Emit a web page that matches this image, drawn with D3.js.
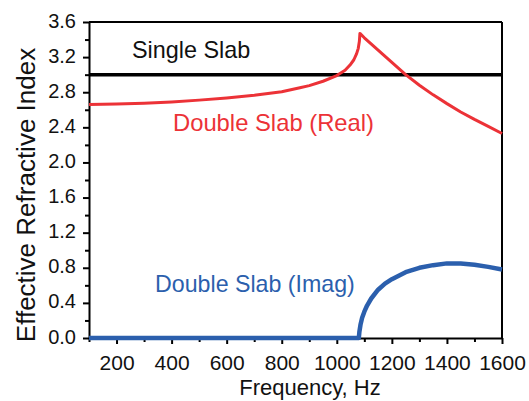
<!DOCTYPE html>
<html>
<head>
<meta charset="utf-8">
<script src="https://cdn.jsdelivr.net/npm/d3@7"></script>
<style>
  body { margin: 0; background: #fff; }
  svg { display: block; font-family: Arial, "Liberation Sans", sans-serif; }
</style>
</head>
<body>
<div id="chart"></div>
<script>
// single slab (constant)
var singleFreq = [100, 1600];
var singleVal = [3.0, 3.0];

// double slab, real part
var realFreq = [100, 200, 300, 400, 500, 600, 700, 800, 866, 900, 950, 1000, 1030, 1048, 1062, 1072, 1078, 1082, 1084,
  1100, 1150, 1200, 1250, 1300, 1350, 1400, 1450, 1500, 1550, 1600];
var realVal = [2.66, 2.665, 2.675, 2.69, 2.71, 2.735, 2.765, 2.805, 2.85, 2.875, 2.925, 2.99, 3.05, 3.11, 3.17, 3.24, 3.3, 3.38, 3.47,
  3.42, 3.28, 3.14, 3.00, 2.88, 2.77, 2.67, 2.575, 2.49, 2.41, 2.33];

// double slab, imaginary part
var imagFreq = [100, 1080, 1082, 1086, 1092, 1100, 1110, 1125, 1150, 1175, 1200, 1250, 1300, 1350, 1400, 1450, 1500, 1550, 1600];
var imagVal = [0, 0, 0.07, 0.15, 0.23, 0.3, 0.37, 0.45, 0.55, 0.62, 0.67, 0.75, 0.8, 0.83, 0.85, 0.85, 0.835, 0.81, 0.78];

var xTicks = [200, 400, 600, 800, 1000, 1200, 1400, 1600];
var yTicks = [0.0, 0.4, 0.8, 1.2, 1.6, 2.0, 2.4, 2.8, 3.2, 3.6];

var labels = [
  { text: 'Single Slab', f: 256, v: 3.19, color: '#111', size: 23.4 },
  { text: 'Double Slab (Real)', f: 405, v: 2.36, color: '#ec3237', size: 23.8 },
  { text: 'Double Slab (Imag)', f: 340, v: 0.52, color: '#2b5fad', size: 23.2 }
];

var width = 529, height = 401;
var margin = { top: 22, right: 27, bottom: 63, left: 89 };
var w = width - margin.left - margin.right,
  h = height - margin.top - margin.bottom;

var svg = d3.select('#chart').append('svg')
  .attr('width', width)
  .attr('height', height);

var g = svg.append('g')
  .attr('transform', 'translate(' + margin.left + ',' + margin.top + ')');

var x = d3.scaleLinear().domain([100, 1600]).range([0, w]);
var y = d3.scaleLinear().domain([0, 3.6]).range([h, 0]);

// minor ticks first
var xMinor = d3.range(100, 1601, 100).filter(function(d) { return xTicks.indexOf(d) < 0; });
var yMinor = d3.range(1, 18, 2).map(function(d) { return d * 0.2; });

g.append('g')
  .attr('transform', 'translate(0,' + h + ')')
  .call(d3.axisBottom(x).tickValues(xMinor).tickSize(4).tickSizeOuter(0).tickFormat(''))
  .call(function(a) { a.select('.domain').remove(); a.selectAll('line').attr('stroke-width', 2); });

g.append('g')
  .call(d3.axisLeft(y).tickValues(yMinor).tickSize(4).tickSizeOuter(0).tickFormat(''))
  .call(function(a) { a.select('.domain').remove(); a.selectAll('line').attr('stroke-width', 2); });

var xAxis = g.append('g')
  .attr('transform', 'translate(0,' + h + ')')
  .call(d3.axisBottom(x).tickValues(xTicks).tickSize(6).tickSizeOuter(0).tickPadding(11).tickFormat(d3.format('d')));
xAxis.selectAll('text').attr('font-size', 21).attr('fill', '#111').attr('font-family', 'Arial, "Liberation Sans", sans-serif');

var yAxis = g.append('g')
  .call(d3.axisLeft(y).tickValues(yTicks).tickSize(6).tickSizeOuter(0).tickPadding(7).tickFormat(d3.format('.1f')));
yAxis.selectAll('text').attr('font-size', 20).attr('fill', '#111').attr('dy', '0.25em')
  .attr('font-family', 'Arial, "Liberation Sans", sans-serif');

[xAxis, yAxis].forEach(function(a) {
  a.select('.domain').attr('stroke-width', 2);
  a.selectAll('line').attr('stroke-width', 2);
});

// box: top and right
g.append('line').attr('x1', 0).attr('x2', w).attr('y1', 0).attr('y2', 0)
  .attr('stroke', '#000').attr('stroke-width', 2);
g.append('line').attr('x1', w).attr('x2', w).attr('y1', 0).attr('y2', h)
  .attr('stroke', '#000').attr('stroke-width', 2);

function series(fs, vs) {
  return fs.map(function(f, i) { return { f: f, v: vs[i] }; });
}

var line = d3.line()
  .x(function(d) { return x(d.f); })
  .y(function(d) { return y(d.v); });

g.append('path')
  .datum(series(singleFreq, singleVal))
  .attr('fill', 'none')
  .attr('stroke', '#000')
  .attr('stroke-width', 3.5)
  .attr('d', line);

g.append('path')
  .datum(series(realFreq, realVal))
  .attr('fill', 'none')
  .attr('stroke', '#ec3237')
  .attr('stroke-width', 3)
  .attr('stroke-linejoin', 'round')
  .attr('d', line);

g.append('path')
  .datum(series(imagFreq, imagVal))
  .attr('fill', 'none')
  .attr('stroke', '#2b5fad')
  .attr('stroke-width', 4.5)
  .attr('stroke-linejoin', 'round')
  .attr('d', line);

g.selectAll('.lbl')
  .data(labels)
  .enter()
  .append('text')
  .attr('class', 'lbl')
  .attr('x', function(d) { return x(d.f); })
  .attr('y', function(d) { return y(d.v); })
  .attr('font-size', function(d) { return d.size; })
  .attr('fill', function(d) { return d.color; })
  .text(function(d) { return d.text; });

// axis titles
svg.append('text')
  .attr('x', 310)
  .attr('y', 395)
  .attr('text-anchor', 'middle')
  .attr('font-size', 22)
  .attr('fill', '#111')
  .text('Frequency, Hz');

svg.append('text')
  .attr('transform', 'translate(35,195) rotate(-90)')
  .attr('text-anchor', 'middle')
  .attr('font-size', 26)
  .attr('fill', '#111')
  .text('Effective Refractive Index');
</script>
</body>
</html>
